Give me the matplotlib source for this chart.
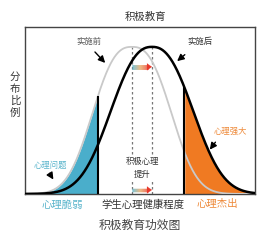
import numpy as np
import matplotlib
matplotlib.use("Agg")
import matplotlib.pyplot as plt
from matplotlib.collections import LineCollection
from matplotlib.colors import LinearSegmentedColormap

plt.rcParams['font.family'] = ['Noto Sans CJK SC', 'DejaVu Sans']

# bell curves: centre, width, shape exponent (health level 0-100)
curve_names = ["实施前", "实施后"]
centers = [46.5, 55.2]
widths = [20.9, 22.6]
shapes = [2.6, 2.4]

# cut-off levels for weak / outstanding groups
low_cut = 31.7
high_cut = 69.3

tick_pos = [16.1, 51.3, 83.5]
tick_labels = ["心理脆弱", "学生心理健康程度", "心理杰出"]
tick_colors = ["#5bb5cc", "#333333", "#ee8a3a"]

BLUE = "#4aaecb"
ORANGE = "#f07a22"


def bell(x, c, w, p):
    return np.exp(-np.abs((x - c) / w) ** p)


def grad_arrow(ax, x0, x1, y, lw):
    cmap = LinearSegmentedColormap.from_list("g", ["#52b3cc", "#e9a35a", "#e8382a"])
    xs = np.linspace(x0, x1 - 1.6, 40)
    pts = np.array([xs, np.full_like(xs, y)]).T.reshape(-1, 1, 2)
    segs = np.concatenate([pts[:-1], pts[1:]], axis=1)
    lc = LineCollection(segs, cmap=cmap, linewidths=lw, zorder=6)
    lc.set_array(np.linspace(0, 1, len(segs)))
    ax.add_collection(lc)
    ax.annotate("", xy=(x1, y), xytext=(x1 - 1.8, y),
                arrowprops=dict(arrowstyle="-|>,head_width=0.25,head_length=0.35",
                                color="#e8382a", lw=0.1), zorder=7)


fig = plt.figure(figsize=(2.6, 2.4), dpi=100)
ax = fig.add_axes([0.096, 0.192, 0.885, 0.696])

x = np.linspace(0, 100, 600)
y_before = bell(x, centers[0], widths[0], shapes[0])
y_after = bell(x, centers[1], widths[1], shapes[1])

# shaded groups
m = x <= low_cut
ax.fill_between(x[m], 0, y_before[m], color=BLUE, lw=0, zorder=1)
m = x >= high_cut
ax.fill_between(x[m], 0, y_after[m], color=ORANGE, lw=0, zorder=1)

ax.plot(x, y_before, color="#c9c9c9", lw=1.3, zorder=3)
ax.plot(x, y_after, color="black", lw=1.8, zorder=4)

ax.vlines(low_cut, 0, bell(low_cut, centers[0], widths[0], shapes[0]), color="black", lw=1.5, zorder=5)
ax.vlines(high_cut, 0, bell(high_cut, centers[1], widths[1], shapes[1]), color="black", lw=1.5, zorder=5)

for c in centers:
    ax.vlines(c, 0, 1.0, color="#777777", lw=0.9, linestyles=(0, (2, 2)), zorder=2)

grad_arrow(ax, centers[0], centers[1], 0.864, 3.5)
grad_arrow(ax, centers[0], centers[1], 0.027, 2.5)

arrow = dict(arrowstyle="-|>,head_width=0.2,head_length=0.4", color="black", lw=1)
ax.annotate("", xy=(35.7, 0.877), xytext=(29.6, 0.979), arrowprops=arrow, zorder=6)
ax.text(27.8, 1.034, curve_names[0], fontsize=6, color="#555555", ha="center", va="center")
ax.annotate("", xy=(65.2, 0.891), xytext=(70.4, 0.959), arrowprops=arrow, zorder=6)
ax.text(76.1, 1.034, curve_names[1], fontsize=6, color="#333333", ha="center", va="center")

ax.annotate("", xy=(13.0, 0.082), xytext=(10.0, 0.156), arrowprops=arrow, zorder=6)
ax.text(10.9, 0.197, "心理问题", fontsize=6, color="#5bb5cc", ha="center", va="center")
ax.annotate("", xy=(79.6, 0.286), xytext=(83.5, 0.367), arrowprops=arrow, zorder=6)
ax.text(89.1, 0.422, "心理强大", fontsize=6, color="#ee8a3a", ha="center", va="center")

ax.text(50.9, 0.177, "积极心理\n提升", fontsize=6, color="#333333", ha="center", va="center",
        linespacing=1.5, zorder=6,
        bbox=dict(facecolor="white", edgecolor="none", pad=1.5))

ax.set_xlim(0, 100)
ax.set_ylim(0, 1.136)
ax.set_yticks([])
ax.set_xticks(tick_pos)
ax.set_xticklabels(tick_labels, fontsize=7.5)
for lab, col in zip(ax.get_xticklabels(), tick_colors):
    lab.set_color(col)
ax.tick_params(axis="x", length=0, pad=4)
for s in ax.spines.values():
    s.set_color("#444444")
    s.set_linewidth(1)

fig.text(0.558, 0.929, "积极教育", fontsize=7.5, color="#333333", ha="center", va="center")
fig.text(0.058, 0.604, "分\n布\n比\n例", fontsize=7.5, color="#333333", ha="center", va="center",
         linespacing=1.25)
fig.text(0.538, 0.0625, "积极教育功效图", fontsize=8.5, color="#444444", ha="center", va="center")

fig.savefig("out.png", dpi=100)
